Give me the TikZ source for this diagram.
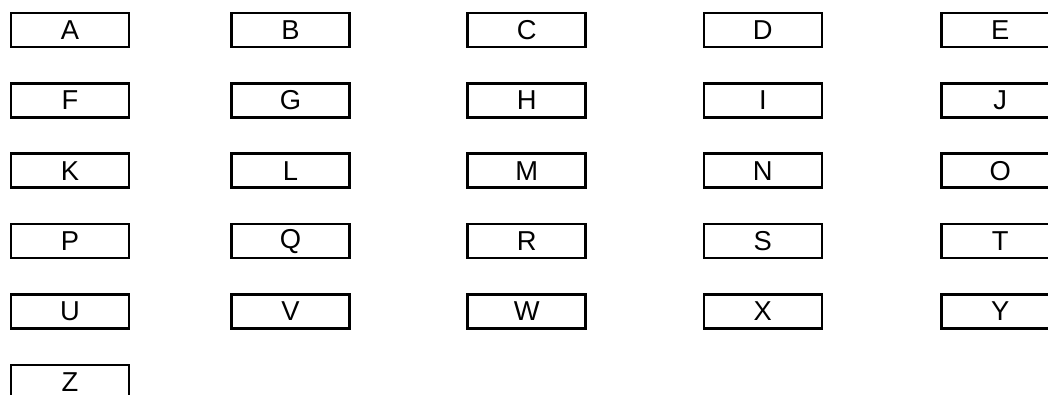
\documentclass[tikz,border=0pt]{standalone}
\usepackage{fontspec}
\setmainfont{Liberation Sans}
\begin{document}
\begin{tikzpicture}[x=0.75pt,y=-0.75pt,
  letterbox/.style={draw=black, line width=1.9pt, fill=white, minimum width=88.5pt, minimum height=25.5pt, inner sep=0pt, font=\fontsize{20.5pt}{24pt}\selectfont, text=black}]
\useasboundingbox (0,0) rectangle (1048,394);
\clip (0,0) rectangle (1048,394);
\def\colA{70}\def\colB{290.5}\def\colC{526.7}\def\colD{762.8}\def\colE{1000.3}
\foreach \name/\txt/\cx/\cy in {
  a/A/70/30, b/B/290.5/30, c/C/526.7/30, d/D/762.8/30, e/E/1000.3/30,
  f/F/70/100.4, g/G/290.5/100.4, h/H/526.7/100.4, i/I/762.8/100.4, j/J/1000.3/100.4,
  k/K/70/170.7, l/L/290.5/170.7, m/M/526.7/170.7, n/N/762.8/170.7, o/O/1000.3/170.7,
  p/P/70/241.1, q/Q/290.5/241.1, r/R/526.7/241.1, s/S/762.8/241.1, t/T/1000.3/241.1,
  u/U/70/311.4, v/V/290.5/311.4, w/W/526.7/311.4, x/X/762.8/311.4, y/Y/1000.3/311.4,
  z/Z/70/381.8}
  \node[letterbox] (\name) at (\cx,\cy) {\txt};
\end{tikzpicture}
\end{document}
